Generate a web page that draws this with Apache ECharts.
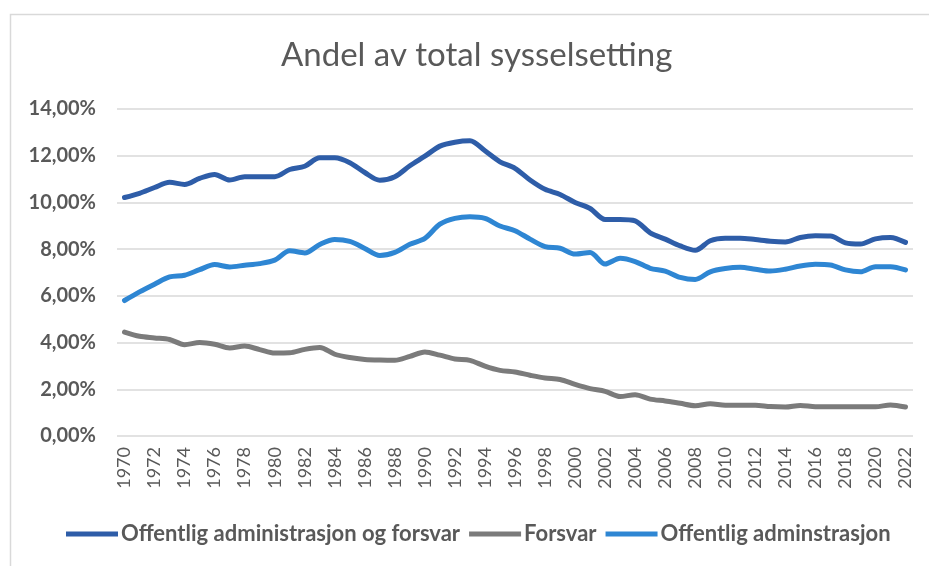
<!DOCTYPE html>
<html>
<head>
<meta charset="utf-8">
<script src="https://cdn.jsdelivr.net/npm/echarts@6/dist/echarts.min.js"></script>
<style>
  html, body { margin: 0; padding: 0; background: #fff; }
  #chart { width: 929px; height: 566px; }
</style>
</head>
<body>
<div id="chart"></div>
<script>
// år 1970-2022
var years = [];
for (var y = 1970; y <= 2022; y++) years.push(String(y));

// andel av total sysselsetting, prosent
var offAdmOgForsvar = [
  10.21, 10.39, 10.64, 10.86, 10.77, 11.03, 11.20, 10.96, 11.10, 11.10,
  11.10, 11.41, 11.55, 11.91, 11.91, 11.70, 11.28, 10.95, 11.10, 11.57,
  11.98, 12.41, 12.58, 12.64, 12.21, 11.74, 11.46, 10.96, 10.56, 10.34,
  10.00, 9.74, 9.27, 9.27, 9.21, 8.70, 8.43, 8.14, 7.95, 8.36,
  8.47, 8.47, 8.41, 8.34, 8.31, 8.50, 8.57, 8.56, 8.27, 8.22,
  8.44, 8.50, 8.29
];
var forsvar = [
  4.45, 4.27, 4.20, 4.13, 3.91, 4.00, 3.93, 3.77, 3.85, 3.70,
  3.55, 3.56, 3.71, 3.79, 3.50, 3.36, 3.28, 3.25, 3.24, 3.41,
  3.60, 3.46, 3.30, 3.24, 2.99, 2.81, 2.74, 2.60, 2.48, 2.42,
  2.21, 2.03, 1.91, 1.69, 1.77, 1.58, 1.50, 1.40, 1.30, 1.38,
  1.32, 1.32, 1.32, 1.26, 1.24, 1.31, 1.25, 1.25, 1.25, 1.25,
  1.25, 1.33, 1.24
];
var offAdm = [
  5.80, 6.17, 6.50, 6.81, 6.88, 7.12, 7.34, 7.24, 7.31, 7.38,
  7.53, 7.93, 7.84, 8.20, 8.41, 8.33, 8.03, 7.73, 7.86, 8.21,
  8.46, 9.07, 9.32, 9.39, 9.32, 8.99, 8.79, 8.43, 8.11, 8.04,
  7.79, 7.86, 7.36, 7.61, 7.47, 7.18, 7.06, 6.79, 6.70, 7.03,
  7.17, 7.22, 7.14, 7.06, 7.14, 7.28, 7.35, 7.32, 7.11, 7.03,
  7.25, 7.25, 7.11
];
var yTicks = [0, 2, 4, 6, 8, 10, 12, 14];

var chart = echarts.init(document.getElementById('chart'));

function serie(name, data, color) {
  return {
    name: name,
    type: 'line',
    data: data,
    smooth: 0.3,
    symbol: 'none',
    color: color,
    lineStyle: { width: 5, color: color, cap: 'round', join: 'round' }
  };
}

chart.setOption({
  animation: false,
  backgroundColor: '#fff',
  textStyle: { fontFamily: 'Lato' },
  graphic: [{
    type: 'rect',
    shape: { x: 10.5, y: 14.5, width: 940, height: 570 },
    style: { fill: 'none', stroke: '#d9d9d9', lineWidth: 1.5 },
    silent: true
  }],
  title: {
    text: 'Andel av total sysselsetting',
    left: 276,
    top: 34,
    textStyle: { fontFamily: 'Lato', fontSize: 33, fontWeight: 'normal', color: '#595959' }
  },
  grid: { left: 117, right: 16, top: 109, bottom: 130 },
  legend: {
    bottom: 16,
    left: 61,
    icon: 'rect',
    itemWidth: 52,
    itemHeight: 5,
    itemGap: 9,
    textStyle: { fontFamily: 'Lato', fontSize: 22, fontWeight: 'bold', color: '#595959', padding: [0, 0, 0, -2] },
    data: ['Offentlig administrasjon og forsvar', 'Forsvar', 'Offentlig adminstrasjon']
  },
  xAxis: {
    type: 'category',
    data: years,
    boundaryGap: true,
    axisLine: { show: false },
    axisTick: { show: false },
    axisLabel: {
      interval: 1,
      rotate: 90,
      margin: 11,
      fontSize: 18,
      color: '#595959'
    }
  },
  yAxis: {
    type: 'value',
    min: 0,
    max: 14,
    interval: 2,
    axisLine: { show: false },
    axisTick: { show: false },
    splitLine: { lineStyle: { color: '#d9d9d9', width: 1.5 } },
    axisLabel: {
      margin: 21,
      fontSize: 20,
      fontWeight: 'bold',
      color: '#595959',
      formatter: function (v) {
        return yTicks.indexOf(v) >= 0 ? v.toFixed(2).replace('.', ',') + '%' : '';
      }
    }
  },
  series: [
    serie('Offentlig administrasjon og forsvar', offAdmOgForsvar, '#2E5DA8'),
    serie('Forsvar', forsvar, '#7B7B7B'),
    serie('Offentlig adminstrasjon', offAdm, '#2E86D3')
  ]
});
</script>
</body>
</html>
